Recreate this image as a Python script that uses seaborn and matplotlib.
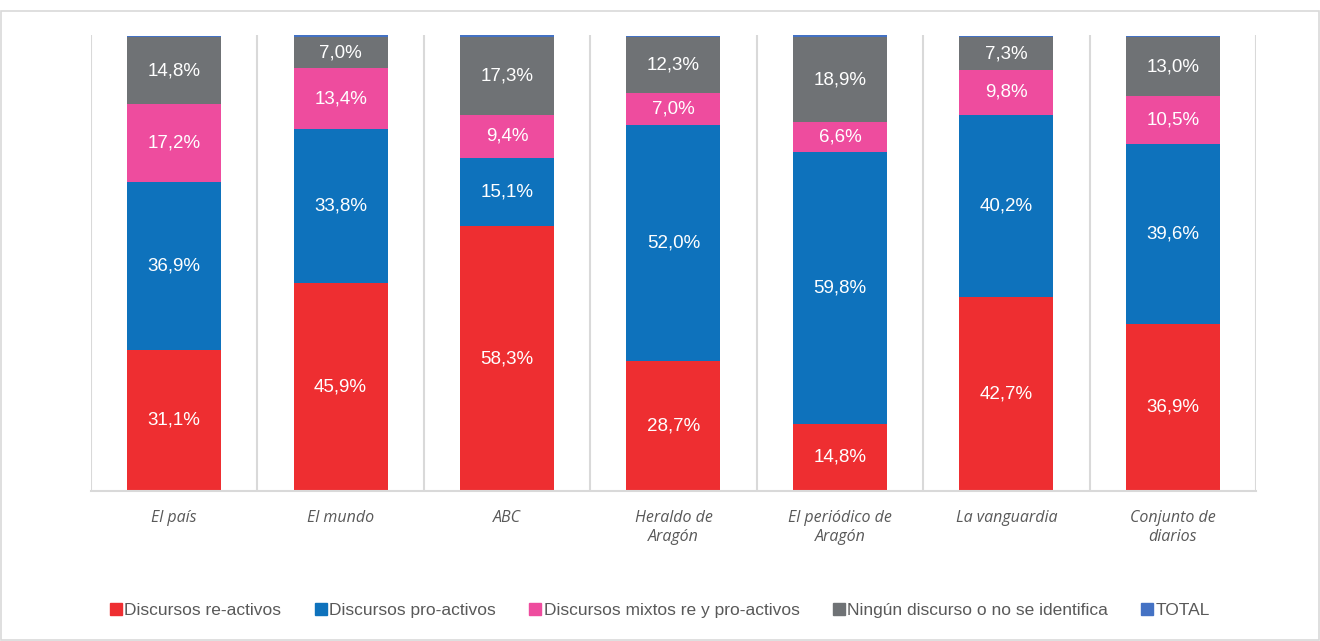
import numpy as np
import pandas as pd
import matplotlib
matplotlib.use("Agg")
import matplotlib.pyplot as plt
import seaborn as sns
from matplotlib.lines import Line2D

categories = ["El país", "El mundo", "ABC", "Heraldo de\nAragón",
              "El periódico de\nAragón", "La vanguardia", "Conjunto de\ndiarios"]
reactivos = [31.1, 45.9, 58.3, 28.7, 14.8, 42.7, 36.9]
proactivos = [36.9, 33.8, 15.1, 52.0, 59.8, 40.2, 39.6]
mixtos = [17.2, 13.4, 9.4, 7.0, 6.6, 9.8, 10.5]
ninguno = [14.8, 7.0, 17.3, 12.3, 18.9, 7.3, 13.0]
total = [0.3, 0.3, 0.3, 0.3, 0.3, 0.3, 0.3]

series_names = ["Discursos re-activos", "Discursos pro-activos",
                "Discursos mixtos re y pro-activos",
                "Ningún discurso o no se identifica", "TOTAL"]
series_vals = [reactivos, proactivos, mixtos, ninguno, total]
colors = ["#EE2E31", "#0E72BC", "#EE4C9E", "#6F7275", "#4472C4"]

sns.set_theme(style="white")
plt.rcParams['font.family'] = ['Liberation Sans', 'DejaVu Sans']

fig = plt.figure(figsize=(13.2, 6.41), dpi=100)
ax = fig.add_axes([0.0689, 0.234, 0.8826, 0.711])

cum = np.cumsum(np.array(series_vals), axis=0)
# draw from top layer down so that each stacked segment is visible
for i in range(len(series_vals) - 1, -1, -1):
    df = pd.DataFrame({"cat": categories, "val": cum[i]})
    sns.barplot(data=df, x="cat", y="val", color=colors[i], width=0.565,
                saturation=1, ax=ax, linewidth=0, order=categories)

# labels
for i in range(4):
    bottoms = cum[i] - np.array(series_vals[i])
    for j, v in enumerate(series_vals[i]):
        ax.text(j, bottoms[j] + v / 2, f"{v:.1f}%".replace(".", ","),
                ha="center", va="center", color="white", fontsize=13.5)

ax.set_xlim(-0.5, 6.5)
ax.set_ylim(0, 100.4)
ax.set_yticks([])
ax.set_xlabel("")
ax.set_ylabel("")
for b in np.arange(-0.5, 7, 1.0):
    ax.axvline(b, color="#D9D9D9", lw=1.5, zorder=0)
for s in ["top", "right", "left"]:
    ax.spines[s].set_visible(False)
ax.spines["bottom"].set_color("#D9D9D9")
ax.spines["bottom"].set_linewidth(1.5)
ax.tick_params(axis="x", length=0, pad=14)
ax.set_xticks(range(len(categories)))
ax.set_xticklabels(categories, fontstyle="italic", color="#595959",
                   fontsize=11.5, linespacing=1.25,
                   family=['Open Sans', 'DejaVu Sans'])

handles = [Line2D([0], [0], marker="s", linestyle="none", markersize=8,
                  markerfacecolor=c, markeredgecolor=c) for c in colors]
fig.legend(handles, series_names, loc="center", bbox_to_anchor=(0.5, 0.048),
           ncol=5, frameon=False, fontsize=12.5, handlelength=0.7,
           handletextpad=0.15, columnspacing=1.9, labelcolor="#595959")

# figure border
fig.patches.append(plt.Rectangle((0.001, 0.001), 0.998, 0.982, transform=fig.transFigure,
                                 fill=False, edgecolor="#D9D9D9", lw=1.2))

fig.savefig("out.png", dpi=100)
